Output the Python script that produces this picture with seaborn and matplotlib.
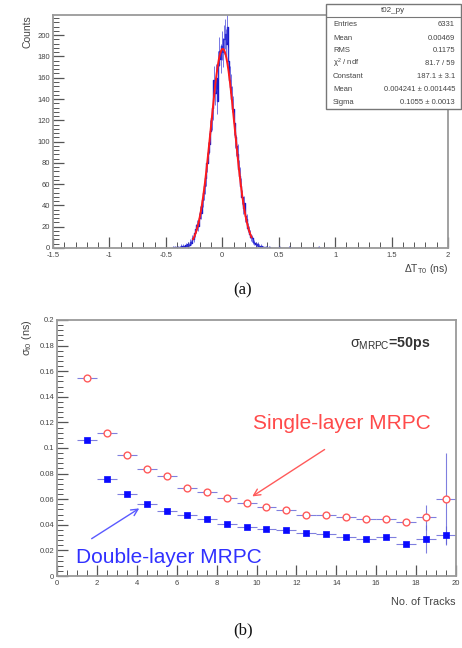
import numpy as np
import pandas as pd
import matplotlib
matplotlib.use("Agg")
import matplotlib.pyplot as plt
import seaborn as sns
from matplotlib.ticker import MultipleLocator, FuncFormatter
from matplotlib.patches import Rectangle

sns.set_theme(style="white")
plt.rcParams['font.family'] = ['Liberation Sans', 'DejaVu Sans']
plt.rcParams['mathtext.fontset'] = 'custom'
plt.rcParams['mathtext.rm'] = 'Liberation Sans'
plt.rcParams['mathtext.it'] = 'Liberation Sans'

# ---------------- data: panel (a) ----------------
bin_width = 0.01
bin_centers = [round(-0.445 + i * 0.01, 3) for i in range(90)] + [0.505, 0.595, 0.855]
bin_counts = [0, 1, 0, 1, 0, 1, 0, 1, 2, 1,
              2, 1, 3, 2, 4, 3, 6, 5, 9, 8,
              14, 18, 22, 21, 28, 34, 33, 45, 52, 58,
              66, 80, 90, 98, 110, 122, 132, 158, 146, 160,
              138, 172, 185, 178, 190, 184, 196, 201, 192, 208,
              176, 158, 151, 140, 131, 117, 104, 96, 88, 74,
              68, 58, 48, 38, 42, 30, 27, 19, 17, 13,
              10, 9, 6, 5, 4, 3, 4, 2, 1, 2,
              1, 1, 0, 1, 1, 0, 1, 0, 0, 0,
              1, 1, 1]
fit_const = 187.1
fit_mean = 0.004241
fit_sigma = 0.1055
fit_range = (-0.26, 0.26)

stats_title = "t02_py"
stats_rows = [("Entries", "6331"), ("Mean", "0.00469"), ("RMS", "0.1175"),
              (r"$\chi^2$ / ndf", "81.7 / 59"), ("Constant", "187.1 ± 3.1"),
              ("Mean", "0.004241 ± 0.001445"), ("Sigma", "0.1055 ± 0.0013")]

# ---------------- data: panel (b) ----------------
tracks = [1.5, 2.5, 3.5, 4.5, 5.5, 6.5, 7.5, 8.5, 9.5, 10.5,
          11.5, 12.5, 13.5, 14.5, 15.5, 16.5, 17.5, 18.5, 19.5]
single_sigma = [0.155, 0.1115, 0.0945, 0.0836, 0.078, 0.0685, 0.066, 0.061, 0.057, 0.054,
                0.0516, 0.048, 0.0474, 0.046, 0.0445, 0.0448, 0.0425, 0.0459, 0.060]
single_err = [0.001, 0.001, 0.001, 0.001, 0.001, 0.001, 0.001, 0.001, 0.001, 0.001,
              0.001, 0.001, 0.001, 0.0012, 0.0013, 0.0015, 0.002, 0.0096, 0.036]
double_sigma = [0.106, 0.076, 0.0643, 0.056, 0.051, 0.048, 0.0445, 0.0409, 0.0383, 0.037,
                0.0357, 0.0339, 0.033, 0.0305, 0.0286, 0.0302, 0.0253, 0.0286, 0.0318]
double_err = [0.001, 0.001, 0.001, 0.001, 0.001, 0.001, 0.001, 0.001, 0.001, 0.001,
              0.001, 0.001, 0.001, 0.001, 0.001, 0.0012, 0.0015, 0.011, 0.007]
track_halfwidth = 0.5

# ---------------- figure ----------------
fig = plt.figure(figsize=(4.62, 6.48), dpi=100)
ax1 = fig.add_axes([0.1147, 0.6173, 0.855, 0.3596])
ax2 = fig.add_axes([0.1234, 0.1111, 0.8636, 0.3951])

frame_col = "#9a9a9a"
tick_col = "#555555"

def style_axes(ax):
    for s in ax.spines.values():
        s.set_color(frame_col)
        s.set_linewidth(1.3)
    ax.tick_params(which="both", direction="in", colors=tick_col, labelcolor="#444444",
                   labelsize=5.5, bottom=True, left=True, top=False, right=False)
    ax.tick_params(axis="x", pad=3)
    ax.tick_params(axis="y", pad=2)
    ax.tick_params(which="major", length=8, width=0.9)
    ax.tick_params(which="minor", length=4, width=0.7)
    ax.grid(False)

# panel (a): histogram
df_h = pd.DataFrame({"x": bin_centers, "w": bin_counts})
sns.histplot(data=df_h, x="x", weights="w", binwidth=bin_width, binrange=(-0.45, 0.95),
             element="step", fill=False, color="#1a1acc", linewidth=1.0, ax=ax1)
ax1.errorbar(bin_centers, bin_counts, yerr=np.sqrt(bin_counts), fmt="none",
             ecolor="#3a3ad8", elinewidth=0.6, alpha=0.8)
xf = np.linspace(fit_range[0], fit_range[1], 200)
yf = fit_const * np.exp(-0.5 * ((xf - fit_mean) / fit_sigma) ** 2)
sns.lineplot(x=xf, y=yf, color="#ff1a1a", linewidth=1.4, ax=ax1, sort=False)
ax1.set_xlim(-1.5, 2.0)
ax1.set_ylim(0, 219)
ax1.xaxis.set_major_locator(MultipleLocator(0.5))
ax1.xaxis.set_minor_locator(MultipleLocator(0.1))
ax1.yaxis.set_major_locator(MultipleLocator(20))
ax1.yaxis.set_minor_locator(MultipleLocator(4))
ax1.xaxis.set_major_formatter(FuncFormatter(lambda v, p: f"{v:g}"))
style_axes(ax1)
ax1.set_xlabel(r"$\Delta$T$_{\rm T0}$ (ns)", fontsize=7.5, color="#444444", ha="right", x=1.0, labelpad=2)
ax1.set_ylabel("Counts", fontsize=7.5, color="#444444", ha="right", y=1.0, labelpad=4)

# stats box (figure coords in pixels)
W, H = 462, 648
def fx(px): return px / W
def fy(py): return 1 - py / H
box = Rectangle((fx(326), fy(109)), fx(461) - fx(326), fy(4) - fy(109), transform=fig.transFigure,
                facecolor="white", edgecolor="#777777", linewidth=1.0, zorder=10)
fig.add_artist(box)
fig.add_artist(plt.Line2D([fx(326), fx(461)], [fy(16.5), fy(16.5)], transform=fig.transFigure,
                          color="#777777", linewidth=0.8, zorder=11))
fig.text(fx(393), fy(10), stats_title, fontsize=5.8, color="#444444", ha="center", va="center", zorder=12)
row_y = [25, 38, 51, 63.5, 77, 89.5, 103]
for (lab, val), ry in zip(stats_rows, row_y):
    fig.text(fx(333), fy(ry), lab, fontsize=5.5, color="#444444", ha="left", va="center", zorder=12)
    fig.text(fx(455), fy(ry), val, fontsize=5.5, color="#444444", ha="right", va="center", zorder=12)

# panel (b)
df_s = pd.DataFrame({"n": tracks, "s": single_sigma})
df_d = pd.DataFrame({"n": tracks, "s": double_sigma})
ax2.errorbar(tracks, single_sigma, xerr=track_halfwidth, yerr=single_err, fmt="none",
             ecolor="#5f5fd8", elinewidth=0.8, alpha=0.8)
ax2.errorbar(tracks, double_sigma, xerr=track_halfwidth, yerr=double_err, fmt="none",
             ecolor="#5f5fd8", elinewidth=0.8, alpha=0.8)
sns.scatterplot(data=df_s, x="n", y="s", marker="o", s=24, facecolor="white",
                edgecolor="#ff5a5a", linewidth=1.0, ax=ax2, zorder=5)
sns.scatterplot(data=df_d, x="n", y="s", marker="s", s=24, color="#0a0aff",
                edgecolor="#0a0aff", linewidth=0.5, ax=ax2, zorder=5)
ax2.set_xlim(0, 20)
ax2.set_ylim(0, 0.2)
ax2.xaxis.set_major_locator(MultipleLocator(2))
ax2.xaxis.set_minor_locator(MultipleLocator(0.5))
ax2.yaxis.set_major_locator(MultipleLocator(0.02))
ax2.yaxis.set_minor_locator(MultipleLocator(0.004))
ax2.yaxis.set_major_formatter(FuncFormatter(lambda v, p: f"{v:g}"))
style_axes(ax2)
ax2.set_xlabel("No. of Tracks", fontsize=7.8, color="#444444", ha="right", x=1.0, labelpad=7)
ax2.set_ylabel(r"$\sigma_{t0}$ (ns)", fontsize=7.8, color="#444444", ha="right", y=1.0, labelpad=4)

ax2.text(14.7, 0.182, r"$\sigma_{\rm MRPC}$=50ps", fontsize=10.3, color="#333333",
         ha="left", va="center", fontweight="bold")
ax2.text(9.82, 0.1195, "Single-layer MRPC", fontsize=15, color="#ff4a4a", ha="left", va="center")
ax2.text(0.95, 0.0148, "Double-layer MRPC", fontsize=15, color="#3030ff", ha="left", va="center")
ax2.annotate("", xy=(9.67, 0.061), xytext=(13.53, 0.100),
             arrowprops=dict(arrowstyle="->", color="#ff5a5a", lw=1.0))
ax2.annotate("", xy=(4.24, 0.054), xytext=(1.62, 0.028),
             arrowprops=dict(arrowstyle="->", color="#5a5aff", lw=1.0))

fig.text(fx(243), fy(290), "(a)", fontsize=12, family="Liberation Serif", ha="center", va="center", color="#111111")
fig.text(fx(243), fy(630), "(b)", fontsize=12, family="Liberation Serif", ha="center", va="center", color="#111111")

fig.savefig("out.png", dpi=100)
